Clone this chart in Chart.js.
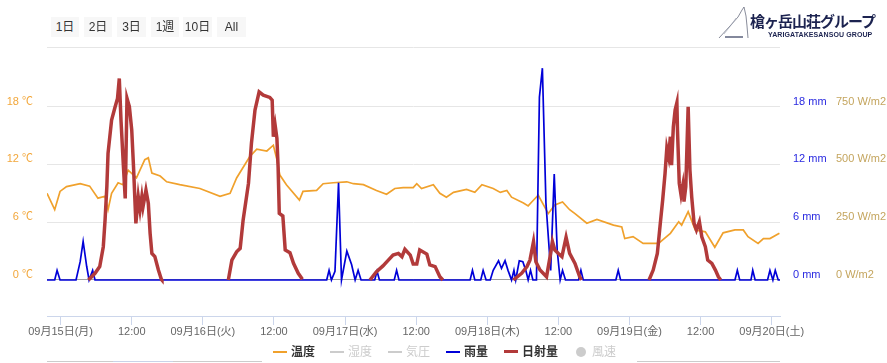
<!DOCTYPE html>
<html lang="ja">
<head>
<meta charset="utf-8">
<title>槍ヶ岳山荘 気象グラフ</title>
<script src="https://cdn.jsdelivr.net/npm/chart.js@4.4.1/dist/chart.umd.min.js"></script>
<style>
  body { margin: 0; background: #fff; font-family: "Liberation Sans", "Noto Sans CJK JP", sans-serif; }
  #wrap { position: relative; width: 887px; height: 363px; overflow: hidden; }
  #chartBox { position: absolute; left: 0; top: 0; width: 887px; height: 363px; }
  .btn { position: absolute; top: 17px; height: 20px; line-height: 20px; background: #f7f7f7;
         color: #333; font-size: 12px; text-align: center; }
  .logo-jp { position: absolute; left: 750px; top: 10px; font-size: 15px; font-weight: bold;
             color: #1c2350; letter-spacing: -1px; font-family: "Noto Sans CJK JP", sans-serif; }
  .logo-en { position: absolute; left: 768px; top: 31px; font-size: 7px; font-weight: bold;
             color: #1c2350; letter-spacing: 0.1px; }
  .leg { position: absolute; top: 344px; height: 16px; font-size: 12px; line-height: 16px; white-space: nowrap; }
  .leg i { position: absolute; top: 7px; left: 0; width: 14px; height: 2px; }
  .leg span { position: absolute; left: 18px; top: 0; }
  .nav { position: absolute; top: 361px; height: 1px; background: #cccccc; }
</style>
</head>
<body>
<div id="wrap">
  <div id="chartBox"><canvas id="chart"></canvas></div>

  <!-- range buttons -->
  <div class="btn" style="left:51px;width:28px">1日</div>
  <div class="btn" style="left:84px;width:28px">2日</div>
  <div class="btn" style="left:117px;width:29px">3日</div>
  <div class="btn" style="left:151px;width:28px">1週</div>
  <div class="btn" style="left:183px;width:29px">10日</div>
  <div class="btn" style="left:217px;width:29px">All</div>

  <!-- logo -->
  <svg style="position:absolute;left:716px;top:4px" width="36" height="38">
    <polyline points="3,34 14,22 22,13 26,6 28,3 30,12 31,22 32,34" fill="none" stroke="#6a6f80" stroke-width="0.8"/>
    <polyline points="8,30 16,20 20,14" fill="none" stroke="#9a9fb0" stroke-width="0.6"/>
    <line x1="9" y1="33" x2="27" y2="33" stroke="#30385a" stroke-width="1.2"/>
  </svg>
  <div class="logo-jp">槍ヶ岳山荘グループ</div>
  <div class="logo-en">YARIGATAKESANSOU GROUP</div>

  <!-- legend -->
  <div class="leg" style="left:273px"><i style="background:#f0a12c"></i><span style="font-weight:bold;color:#333">温度</span></div>
  <div class="leg" style="left:330px"><i style="background:#cccccc;height:1.5px"></i><span style="color:#cccccc">湿度</span></div>
  <div class="leg" style="left:388px"><i style="background:#cccccc;height:1.5px"></i><span style="color:#cccccc">気圧</span></div>
  <div class="leg" style="left:446px"><i style="background:#0000d8"></i><span style="font-weight:bold;color:#333">雨量</span></div>
  <div class="leg" style="left:504px"><i style="background:#b23a3a;height:3px;top:6px"></i><span style="font-weight:bold;color:#333">日射量</span></div>
  <div class="leg" style="left:576px"><i style="background:#cccccc;width:10px;height:10px;border-radius:5px;top:3px"></i><span style="color:#cccccc;left:16px">風速</span></div>

  <div class="nav" style="left:47px;width:215px"></div>
  <div class="nav" style="left:113px;width:60px;background:#c9d3e8"></div>
  <div class="nav" style="left:637px;width:143px"></div>
</div>

<script>
// hours counted from 09/15 00:00
const tempHours = [-2.3, -1.0, -0.1, 1.0, 3.3, 4.9, 6.3, 7.5, 8.0, 8.6, 9.7, 10.5, 11.4, 12.8, 14.2, 14.8, 15.4, 16.8, 17.9, 20.1,
  23.5, 26.9, 28.6, 29.7, 31.9, 33.1, 34.8, 35.9, 36.5, 37.0, 38.1, 40.3, 40.9, 43.2, 44.3, 46.0, 48.3, 49.4, 51.1, 53.3,
  55.0, 56.4, 57.8, 59.5, 60.1, 60.9, 62.9, 64.0, 65.1, 66.3, 68.5, 69.9, 71.1, 73.0, 74.2, 75.3, 76.1, 78.1, 78.9, 79.5,
  80.6, 82.3, 83.4, 84.7, 85.9, 86.8, 88.8, 90.5, 93.3, 94.7, 95.2, 96.6, 98.3, 100.9, 102.9, 104.3, 104.8, 105.9, 107.1, 108.8,
  110.4, 111.8, 113.8, 115.2, 116.0, 117.7, 118.6, 119.7, 121.3];
const tempValues = [9.0, 7.3, 9.2, 9.7, 10.0, 9.75, 8.5, 8.7, 7.3, 9.0, 10.1, 9.9, 11.4, 10.6, 12.5, 12.7, 11.1, 10.8, 10.2, 9.9,
  9.5, 8.7, 9.0, 10.6, 12.8, 13.6, 13.4, 14.0, 12.5, 10.9, 9.9, 8.3, 9.2, 9.3, 10.0, 10.1, 10.2, 10.0, 9.9, 9.3,
  8.9, 9.5, 9.6, 9.6, 10.0, 9.5, 9.9, 9.0, 8.6, 9.1, 9.4, 9.1, 9.9, 9.5, 9.1, 9.3, 8.6, 8.0, 7.7, 8.1,
  8.8, 6.9, 7.8, 8.1, 7.3, 6.9, 5.9, 6.3, 5.7, 5.5, 4.3, 4.5, 3.8, 3.8, 4.85, 6.05, 5.7, 7.1, 5.2, 5.0,
  3.4, 4.9, 5.2, 5.2, 4.5, 3.8, 4.3, 4.3, 4.85];

const rainHours = [-2.3, -1.0, -0.6, -0.1, 2.6, 3.3, 3.8, 4.4, 4.8, 5.4, 5.8, 44.9, 45.3, 45.7, 46.3, 46.9, 47.4, 48.3, 49.1, 49.7,
  50.2, 50.7, 53.0, 53.4, 53.8, 56.3, 56.7, 57.1, 69.1, 69.5, 69.9, 70.9, 71.3, 71.8, 72.5, 73.0, 73.9, 74.4, 75.0, 75.5,
  76.1, 76.5, 76.8, 77.4, 78.0, 78.5, 78.9, 79.3, 79.7, 80.3, 80.8, 81.3, 81.9, 82.7, 83.3, 83.8, 84.3, 84.7, 85.2, 87.4,
  87.8, 88.2, 93.7, 94.1, 94.5, 113.8, 114.2, 114.6, 116.5, 116.8, 117.2, 119.3, 119.7, 120.2, 120.6, 121.1, 121.4];
const rainValues = [0, 0, 1.0, 0, 0, 1.9, 4.0, 1.4, 0, 1.0, 0, 0, 1.0, 0, 0.9, 10.1, 0, 3.0, 1.6, 0,
  1.0, 0, 0, 0.9, 0, 0, 1.0, 0, 0, 1.0, 0, 0, 1.0, 0, 0, 1.0, 2.0, 1.2, 2.0, 1.0,
  0, 1.0, 0, 2.0, 1.9, 1.0, 0, 1.0, 0, 0, 19.0, 22.0, 8.0, 1.0, 11.0, 3.1, 0, 1.0, 0, 0,
  1.0, 0, 0, 1.0, 0, 0, 1.0, 0, 0, 1.0, 0, 0, 1.0, 0, 1.0, 0, 0];

// solar radiation, null = night gap
const radHours = [4.7, 5.8, 6.6, 7.2, 7.5, 7.8, 8.0, 8.6, 9.2, 9.6, 9.9, 10.2, 10.6, 10.9, 11.2, 11.6, 12.0, 12.3, 12.7, 13.1,
  13.4, 13.7, 13.9, 14.4, 14.8, 15.1, 15.4, 15.9, 16.5, 17.0, 17.1, 22.0,
  28.3, 28.9, 29.7, 30.3, 30.8, 31.7, 32.2, 32.8, 33.5, 34.2, 35.3, 35.7, 35.9, 36.2, 36.5, 36.7, 36.9, 37.5, 37.9, 38.7,
  39.3, 40.1, 40.8, 46.0,
  52.2, 53.3, 54.4, 55.3, 56.1, 57.0, 57.6, 58.1, 59.0, 59.5, 60.1, 60.6, 61.8, 62.3, 63.2, 64.0, 64.5, 70.0,
  76.4, 77.8, 78.7, 79.2, 79.8, 80.2, 80.9, 82.0, 82.6, 83.0, 83.4, 84.0, 84.6, 85.3, 85.9, 86.8, 87.6, 87.9, 94.0,
  99.3, 100.0, 100.7, 101.2, 101.6, 102.0, 102.3, 102.6, 102.9, 103.1, 103.4, 103.7, 104.0, 104.1, 104.4, 104.7, 105.0, 105.2,
  105.5, 105.9, 106.2, 106.5, 106.9, 107.3, 107.8, 108.2, 108.8, 109.2, 109.9, 110.5, 111.0, 111.4];
const radValues = [0, 29, 58, 144, 260, 404, 548, 692, 750, 786, 872, 685, 490, 353, 786, 750, 649, 490, 245, 360,
  303, 360, 317, 389, 332, 202, 115, 101, 43, 3, 0, null,
  0, 86, 122, 137, 260, 418, 591, 735, 814, 800, 790, 778, 620, 670, 613, 490, 288, 277, 130, 118,
  72, 29, 3, null,
  0, 36, 61, 86, 108, 115, 101, 133, 108, 69, 69, 130, 112, 65, 58, 14, 0, null,
  0, 29, 58, 86, 166, 79, 43, 14, 101, 166, 130, 115, 101, 185, 115, 72, 14, 0, null,
  0, 43, 115, 245, 346, 461, 570, 533, 620, 497, 663, 735, 767, 649, 418, 368, 411, 339,
  404, 750, 476, 360, 245, 216, 252, 187, 144, 86, 72, 43, 14, 0];

const xTickHours = [0, 12, 24, 36, 48, 60, 72, 84, 96, 108, 120];
const dayLabels = ['09月15日(月)', '09月16日(火)', '09月17日(水)', '09月18日(木)', '09月19日(金)', '09月20日(土)'];
const tempTicks = [0, 6, 12, 18];
const rainTicks = [0, 6, 12, 18];
const radTicks = [0, 250, 500, 750];

// axis ranges (temperature and rain share the scale, 250 W/m2 = 6 units)
const X_MIN = -2.3, X_MAX = 121.4;
const Y_MIN = -3.74, Y_MAX = 24.2;
const RAD_PER_UNIT = 250 / 6;

function toPoints(xs, ys) {
    return xs.map((x, i) => ({ x: x, y: ys[i] }));
}

Chart.defaults.font.family = '"Liberation Sans", "Noto Sans CJK JP", sans-serif';
Chart.defaults.font.size = 11;

new Chart(document.getElementById('chart'), {
    type: 'line',
    data: {
        datasets: [
            {
                label: '日射量', data: toPoints(radHours, radValues), yAxisID: 'yRad',
                borderColor: '#b23a3a', borderWidth: 3.5, pointRadius: 0, spanGaps: false
            },
            {
                label: '雨量', data: toPoints(rainHours, rainValues), yAxisID: 'yRain',
                borderColor: '#0000d8', borderWidth: 1.7, pointRadius: 0
            },
            {
                label: '温度', data: toPoints(tempHours, tempValues), yAxisID: 'yTemp',
                borderColor: '#f0a12c', borderWidth: 1.7, pointRadius: 0
            }
        ]
    },
    options: {
        responsive: true,
        maintainAspectRatio: false,
        animation: false,
        layout: { padding: { top: 47, left: 0, right: 0, bottom: 0 } },
        plugins: { legend: { display: false }, tooltip: { enabled: false } },
        elements: { line: { tension: 0 } },
        scales: {
            x: {
                type: 'linear', min: X_MIN, max: X_MAX,
                afterBuildTicks: axis => { axis.ticks = xTickHours.map(v => ({ value: v })); },
                afterFit: axis => { axis.height = 47; },
                grid: { drawOnChartArea: false, drawTicks: true, tickLength: 9, color: '#ccd6eb' },
                border: { color: '#ccd6eb' },
                ticks: {
                    color: '#666', padding: 0, autoSkip: false, maxRotation: 0,
                    callback: v => (v % 24 === 0 ? dayLabels[v / 24] : '12:00')
                }
            },
            yTemp: {
                position: 'left', min: Y_MIN, max: Y_MAX,
                afterBuildTicks: axis => { axis.ticks = tempTicks.concat([Y_MAX]).map(v => ({ value: v })); },
                afterFit: axis => { axis.width = 47; },
                grid: {
                    drawTicks: false,
                    color: c => (c.tick && c.tick.value === 0 ? '#a0a0a0' : '#e6e6e6')
                },
                border: { display: false },
                ticks: {
                    color: '#f2a73b', padding: 14, labelOffset: -5,
                    callback: v => (tempTicks.includes(v) ? v + ' ℃' : '')
                }
            },
            yRain: {
                position: 'right', weight: 0, min: Y_MIN, max: Y_MAX,
                afterBuildTicks: axis => { axis.ticks = rainTicks.map(v => ({ value: v })); },
                afterFit: axis => { axis.width = 56; },
                grid: { display: false, drawTicks: false },
                border: { display: false },
                ticks: { color: '#2a2ae0', padding: 13, labelOffset: -5, callback: v => v + ' mm' }
            },
            yRad: {
                position: 'right', weight: 1, min: Y_MIN * RAD_PER_UNIT, max: Y_MAX * RAD_PER_UNIT,
                afterBuildTicks: axis => { axis.ticks = radTicks.map(v => ({ value: v })); },
                afterFit: axis => { axis.width = 51; },
                grid: { display: false, drawTicks: false },
                border: { display: false },
                ticks: { color: '#c4a55e', padding: 0, labelOffset: -5, callback: v => v + ' W/m2' }
            }
        }
    }
});
</script>
</body>
</html>
